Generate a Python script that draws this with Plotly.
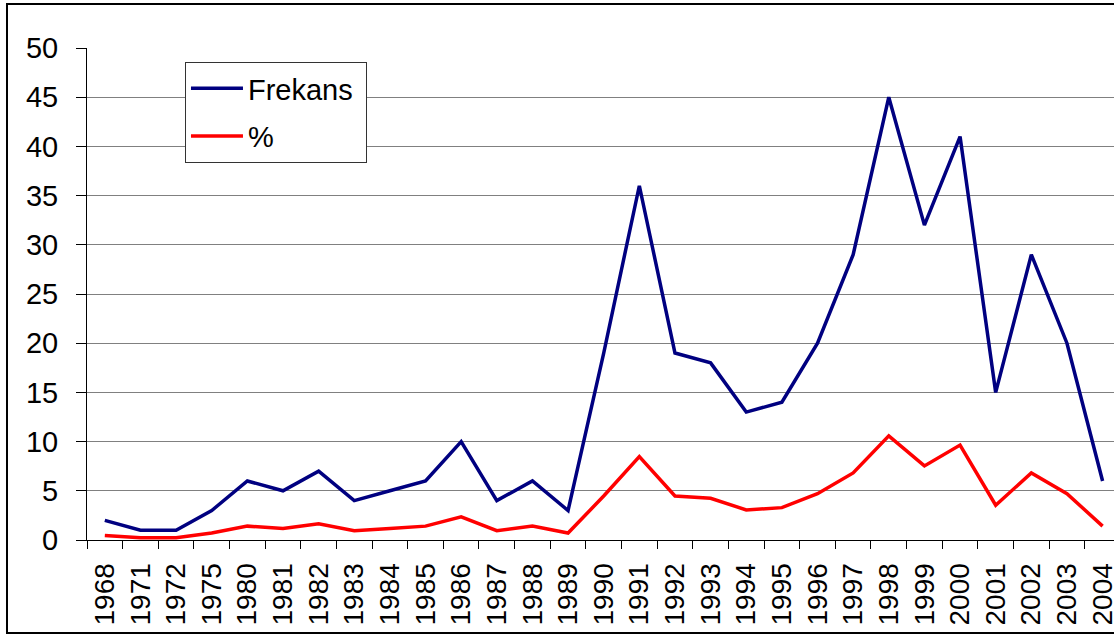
import plotly.graph_objects as go

years = ["1968", "1971", "1972", "1975", "1980", "1981", "1982", "1983", "1984", "1985",
         "1986", "1987", "1988", "1989", "1990", "1991", "1992", "1993", "1994", "1995",
         "1996", "1997", "1998", "1999", "2000", "2001", "2002", "2003", "2004"]
frekans = [2, 1, 1, 3, 6, 5, 7, 4, 5, 6,
           10, 4, 6, 3, 19, 36, 19, 18, 13, 14,
           20, 29, 45, 32, 41, 15, 29, 20, 6]
yuzde = [0.47, 0.24, 0.24, 0.71, 1.41, 1.18, 1.65, 0.94, 1.18, 1.41,
         2.35, 0.94, 1.41, 0.71, 4.47, 8.47, 4.47, 4.24, 3.06, 3.29,
         4.71, 6.82, 10.59, 7.53, 9.65, 3.53, 6.82, 4.71, 1.41]

FONT = "Arial, Liberation Sans, sans-serif"

fig = go.Figure()
fig.add_trace(go.Scatter(x=years, y=frekans, mode="lines", name="Frekans\u00a0",
                         legendgroup="a", line=dict(color="#000080", width=3.5)))
fig.add_trace(go.Scatter(x=years, y=yuzde, mode="lines", name="%",
                         legendgroup="b", line=dict(color="#FF0000", width=3.5)))

fig.update_layout(
    width=1114, height=635,
    margin=dict(l=87, r=0, t=48, b=95),
    paper_bgcolor="white", plot_bgcolor="white",
    font=dict(family=FONT, size=29, color="black"),
    showlegend=True,
    legend=dict(x=0.0954, y=0.9715, xanchor="left", yanchor="top",
                bgcolor="white", bordercolor="#333333", borderwidth=1,
                tracegroupgap=7, itemwidth=52, font=dict(size=29)),
)
fig.update_xaxes(
    type="category", range=[-0.5, 28.32], automargin=False,
    tickangle=-90, tickson="boundaries", ticks="outside", ticklen=8,
    tickcolor="black", showline=True, linecolor="black", linewidth=1,
    showgrid=False, ticklabelstandoff=11, tickfont=dict(size=28),
)
fig.update_yaxes(
    range=[0, 50], dtick=5, ticks="outside", ticklen=10, tickcolor="black",
    showline=True, linecolor="black", linewidth=1, automargin=False,
    showgrid=True, gridcolor="#808080", gridwidth=1, zeroline=False,
    ticklabelstandoff=12, tickfont=dict(size=29),
)
# outer chart border (right side cropped off in the original)
fig.add_shape(type="rect", xref="paper", yref="paper",
              x0=-0.0779, x1=1.05, y0=-0.189, y1=1.0894,
              line=dict(color="black", width=2), layer="below")

fig.write_html("out.html", config={"displayModeBar": False},
               post_script="document.body.style.margin='0';")
